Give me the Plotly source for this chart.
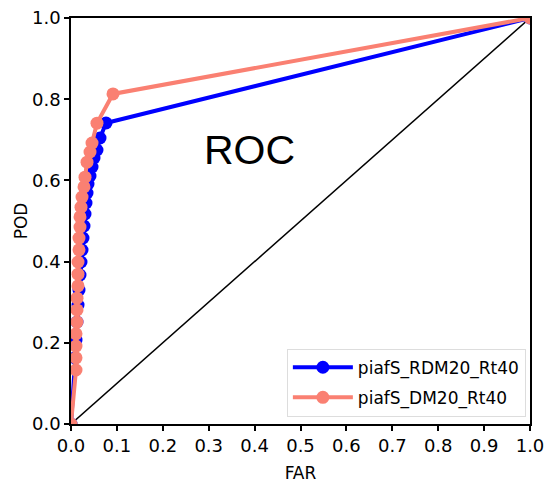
import plotly.graph_objects as go

far_rdm = [0.0, 0.0087, 0.0109, 0.0131, 0.0153, 0.0174, 0.0196, 0.0218, 0.0240, 0.0261, 0.0283,
           0.0305, 0.0327, 0.0349, 0.0370, 0.0414, 0.0458, 0.0501, 0.0566, 0.0632, 0.0763, 1.0]
pod_rdm = [0.0, 0.1626, 0.2069, 0.2512, 0.2931, 0.3300, 0.3670, 0.3990, 0.4286, 0.4581, 0.4877,
           0.5172, 0.5443, 0.5690, 0.5911, 0.6108, 0.6330, 0.6552, 0.6749, 0.7044, 0.7414, 1.0]

far_dm = [0.0, 0.0109, 0.0109, 0.0109, 0.0109, 0.0131, 0.0131, 0.0131, 0.0153, 0.0153, 0.0153, 0.0174,
          0.0174, 0.0196, 0.0196, 0.0218, 0.0240, 0.0283, 0.0305, 0.0349, 0.0414, 0.0458, 0.0566, 0.0915, 1.0]
pod_dm = [0.0, 0.133, 0.163, 0.192, 0.222, 0.251, 0.281, 0.310, 0.340, 0.369, 0.399, 0.429,
          0.458, 0.485, 0.510, 0.534, 0.559, 0.584, 0.608, 0.645, 0.670, 0.692, 0.741, 0.813, 1.0]

xticks = [0.0, 0.1, 0.2, 0.3, 0.4, 0.5, 0.6, 0.7, 0.8, 0.9, 1.0]
yticks = [0.0, 0.2, 0.4, 0.6, 0.8, 1.0]

fig = go.Figure()
fig.add_trace(go.Scatter(x=[0, 1], y=[0, 1], mode="lines", line=dict(color="black", width=1.5),
                         showlegend=False, hoverinfo="skip"))
fig.add_trace(go.Scatter(x=far_rdm, y=pod_rdm, mode="lines+markers", name="piafS_RDM20_Rt40",
                         legendgroup="a",
                         line=dict(color="#0000ff", width=4), marker=dict(color="#0000ff", size=13)))
fig.add_trace(go.Scatter(x=far_dm, y=pod_dm, mode="lines+markers", name="piafS_DM20_Rt40",
                         legendgroup="b",
                         line=dict(color="#fa8072", width=4), marker=dict(color="#fa8072", size=13)))

fig.add_annotation(x=0.389, y=0.675, text="ROC", showarrow=False,
                   font=dict(size=41, color="black", family="Liberation Sans"))

axis_common = dict(showgrid=False, zeroline=False, showline=True, linecolor="black", linewidth=1.5,
                   mirror=True, ticks="outside", ticklen=5, tickwidth=1.5, tickcolor="black",
                   tickfont=dict(size=18, color="black", family="DejaVu Sans"), range=[0, 1],
                   automargin=False)
fig.update_xaxes(tickvals=xticks, ticktext=[f"{t:.1f}" for t in xticks],
                 title=dict(text="FAR", font=dict(size=17, color="black", family="DejaVu Sans"), standoff=13),
                 **axis_common)
fig.update_yaxes(tickvals=yticks, ticktext=[f"{t:.1f}" for t in yticks],
                 title=dict(text="POD", font=dict(size=17, color="black", family="DejaVu Sans"), standoff=0),
                 **axis_common)

fig.update_layout(
    width=547, height=483,
    margin=dict(l=71, r=17, t=18, b=59, autoexpand=False),
    plot_bgcolor="white", paper_bgcolor="white",
    font=dict(family="DejaVu Sans", color="black"),
    legend=dict(x=0.991, y=0.018, xanchor="right", yanchor="bottom",
                bgcolor="rgba(255,255,255,0.8)", bordercolor="#dddddd", borderwidth=1,
                font=dict(size=17, color="black", family="DejaVu Sans"),
                itemwidth=60, tracegroupgap=5, traceorder="grouped"),
)
fig.write_html("out.html")
